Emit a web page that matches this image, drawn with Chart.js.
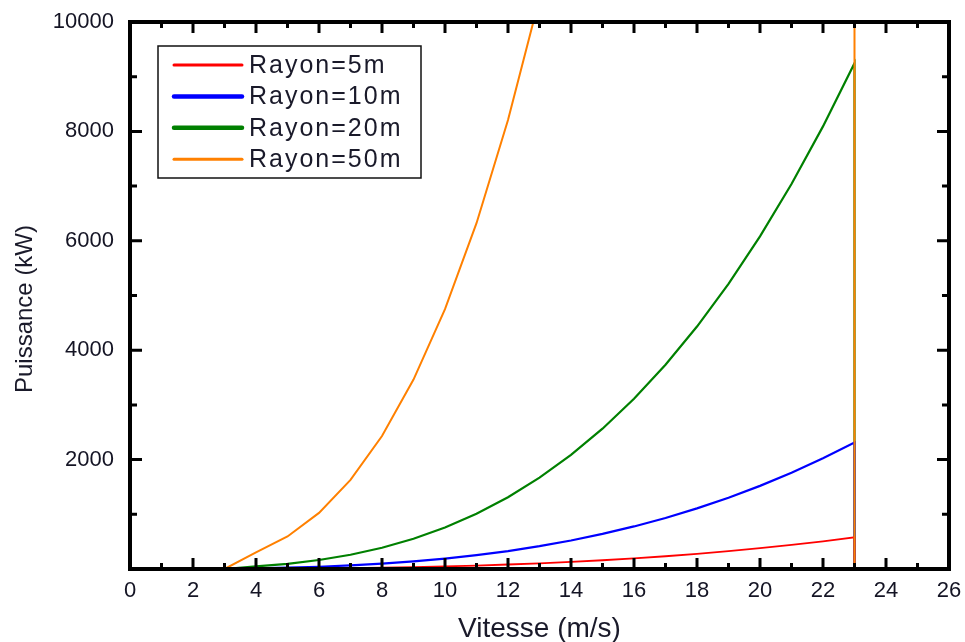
<!DOCTYPE html>
<html lang="fr">
<head>
<meta charset="utf-8">
<script src="https://cdn.jsdelivr.net/npm/chart.js@4.4.1/dist/chart.umd.min.js"></script>
<style>
  body { margin: 0; background: #fff; }
  #wrap { width: 965px; height: 642px; }
</style>
</head>
<body>
<div id="wrap"><canvas id="puissance"></canvas></div>
<script>
// vitesse du vent (m/s) ; le 23 est repete pour la coupure
var vitesse = [0,1,2,3,4,5,6,7,8,9,10,11,12,13,14,15,16,17,18,19,20,21,22,23,23,24,25];
// puissance (kW) par rayon
var rayon5  = [0,0,0,0,3,6,10,16,24,35,48,63,82,104,130,160,195,233,277,326,380,440,506,578,0,0,0];
var rayon10 = [0,0,0,0,12,24,41,65,97,139,190,253,328,417,521,641,778,933,1108,1303,1520,1760,2023,2312,0,0,0];
var rayon20 = [0,0,0,0,49,95,164,261,389,554,760,1012,1313,1670,2085,2565,3113,3734,4432,5213,6080,7038,8092,9247,0,0,0];
var rayon50 = [0,0,0,0,304,594,1026,1629,2432,3463,4750,6322,8208,10436,13034,16031,19456,23337,27702,32580,38000,43990,50578,57793,0,0,0];
var noms = ["Rayon=5m", "Rayon=10m", "Rayon=20m", "Rayon=50m"];
var xTicks = [0,2,4,6,8,10,12,14,16,18,20,22,24,26];
var yTicks = [2000,4000,6000,8000,10000];

function pts(arr) {
    return vitesse.map(function (v, i) { return {x: v, y: arr[i]}; });
}

var FONT = "'Liberation Sans', Arial, sans-serif";
Chart.defaults.font.family = FONT;

var couleurs = ["#ff0000", "#0000ff", "#008000", "#ff8000"];
var epaisseurs = [1.8, 2.2, 2.2, 2];
var legendeEp = [3, 4.5, 4.5, 3];

var cadre = {
    id: 'cadre',
    afterDraw: function (chart) {
        var ctx = chart.ctx, a = chart.chartArea;
        var xs = chart.scales.x, ys = chart.scales.y;
        ctx.save();
        ctx.strokeStyle = '#000';
        // ticks
        ctx.lineWidth = 3;
        ctx.beginPath();
        for (var v = 0; v <= 26; v++) {
            var px = xs.getPixelForValue(v);
            var l = (v % 2 === 0) ? 11 : 6;
            ctx.moveTo(px, a.bottom); ctx.lineTo(px, a.bottom - l);
            ctx.moveTo(px, a.top); ctx.lineTo(px, a.top + l);
        }
        for (var w = 0; w <= 10000; w += 1000) {
            var py = ys.getPixelForValue(w);
            var l2 = (w % 2000 === 0) ? 12 : 7;
            ctx.moveTo(a.left, py); ctx.lineTo(a.left + l2, py);
            ctx.moveTo(a.right, py); ctx.lineTo(a.right - l2, py);
        }
        ctx.stroke();
        ctx.lineWidth = 4;
        ctx.strokeRect(a.left, a.top, a.right - a.left, a.bottom - a.top);

        // legende
        var bx = 158, by = 46, bw = 263, bh = 132;
        ctx.lineWidth = 1.5;
        ctx.strokeStyle = '#111';
        ctx.fillStyle = '#fff';
        ctx.fillRect(bx, by, bw, bh);
        ctx.strokeRect(bx, by, bw, bh);
        ctx.font = '25px ' + FONT;
        ctx.textBaseline = 'middle';
        ctx.textAlign = 'left';
        ctx.letterSpacing = '2px';
        for (var i = 0; i < noms.length; i++) {
            var yy = 65 + i * 31.4;
            ctx.strokeStyle = couleurs[i];
            ctx.lineWidth = legendeEp[i];
            ctx.lineCap = 'round';
            ctx.beginPath();
            ctx.moveTo(174, yy); ctx.lineTo(242, yy);
            ctx.stroke();
            ctx.fillStyle = '#1a1a2a';
            ctx.fillText(noms[i], 249, yy + 1);
        }
        ctx.letterSpacing = '0px';

        // titres des axes
        ctx.fillStyle = '#1a1a2a';
        ctx.font = '28px ' + FONT;
        ctx.textAlign = 'center';
        ctx.textBaseline = 'alphabetic';
        ctx.fillText('Vitesse (m/s)', (a.left + a.right) / 2, 637);
        ctx.translate(32, 309);
        ctx.rotate(-Math.PI / 2);
        ctx.font = '24px ' + FONT;
        ctx.fillText('Puissance (kW)', 0, 0);
        ctx.restore();
    }
};

var sets = [rayon5, rayon10, rayon20, rayon50].map(function (arr, i) {
    return {
        label: noms[i],
        data: pts(arr),
        borderColor: couleurs[i],
        backgroundColor: couleurs[i],
        borderWidth: epaisseurs[i],
        pointRadius: 0,
        tension: 0,
        order: i === 3 ? 0 : 1
    };
});

new Chart(document.getElementById('puissance'), {
    type: 'line',
    data: { datasets: sets },
    options: {
        responsive: true,
        maintainAspectRatio: false,
        animation: false,
        layout: { padding: { top: 22, right: 16, left: 0, bottom: 0 } },
        plugins: { legend: { display: false }, tooltip: { enabled: false } },
        scales: {
            x: {
                type: 'linear', min: 0, max: 26,
                grid: { display: false }, border: { display: false },
                afterFit: function (s) { s.height = 73; s.paddingLeft = 0; s.paddingRight = 0; },
                afterBuildTicks: function (s) { s.ticks = xTicks.map(function (v) { return {value: v}; }); },
                ticks: { font: { size: 22 }, color: '#141424', padding: 1, maxRotation: 0, autoSkip: false }
            },
            y: {
                min: 0, max: 10000,
                grid: { display: false }, border: { display: false },
                afterFit: function (s) { s.width = 130; s.paddingTop = 0; s.paddingBottom = 0; },
                afterBuildTicks: function (s) { s.ticks = yTicks.map(function (v) { return {value: v}; }); },
                ticks: {
                    font: { size: 22 }, color: '#141424', padding: 8,
                    callback: function (v) { return String(v); }
                }
            }
        }
    },
    plugins: [cadre]
});
</script>
</body>
</html>
